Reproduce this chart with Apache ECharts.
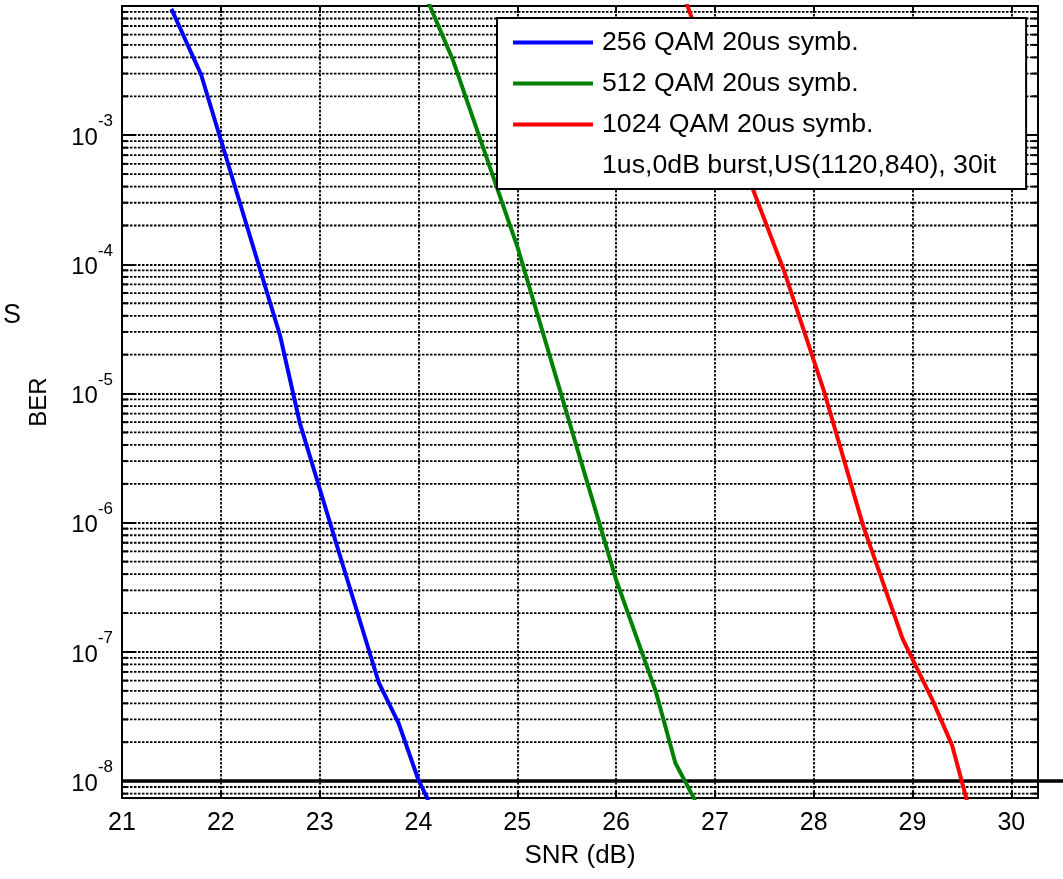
<!DOCTYPE html>
<html>
<head>
<meta charset="utf-8">
<script src="https://cdn.jsdelivr.net/npm/echarts@6/dist/echarts.min.js"></script>
<style>html,body{margin:0;padding:0;background:#fff;}#c{width:1063px;height:879px;}</style>
</head>
<body>
<div id="c"></div>
<script>
// ---- data ----
const seriesNames = ['256 QAM 20us symb.', '512 QAM 20us symb.', '1024 QAM 20us symb.'];
const noteText = '1us,0dB burst,US(1120,840), 30it';
const snr256 = [21.5, 21.8, 22.6, 22.8, 23.2, 23.6, 23.8, 24.0, 24.1];
const ber256 = [9.5e-3, 2.95e-3, 2.8e-5, 5.9e-6, 5.75e-7, 5.75e-8, 2.8e-8, 1.02e-8, 7.1e-9];
const snr512 = [24.1, 24.35, 25.0, 26.0, 26.4, 26.6, 26.8];
const ber512 = [1.07e-2, 3.8e-3, 1.38e-4, 3.63e-7, 5.0e-8, 1.38e-8, 7.1e-9];
const snr1024 = [26.7, 27.4, 27.7, 28.1, 28.5, 28.9, 29.2, 29.4, 29.55];
const ber1024 = [1.12e-2, 3.55e-4, 8.9e-5, 1.07e-5, 9.5e-7, 1.26e-7, 4.27e-8, 1.9e-8, 7.1e-9];
const xMin = 21, xMax = 30.27, xStep = 1;
const yMin = 7.4e-9, yMax = 1e-2;
const thresholdBER = 1e-8;
const thresholdSpan = [21, 30.6];
const minorMantissas = [2, 3, 4, 5, 6, 7, 8, 9];
const decadeExps = [-9, -8, -7, -6, -5, -4, -3];
const labelExps = [-8, -7, -6, -5, -4, -3];

// ---- build ----
const minorVals = [];
decadeExps.forEach(e => minorMantissas.forEach(m => {
  const v = m * Math.pow(10, e);
  if (v > yMin && v < yMax) minorVals.push(v);
}));
const zip = (xs, ys) => xs.map((x, i) => [x, ys[i]]);
const FONT = 'Liberation Sans, Arial, sans-serif';
const DASH = [2.5, 1.5];
const dotted = { type: DASH, color: '#000', width: 1.8 };

const chart = echarts.init(document.getElementById('c'), null, { renderer: 'canvas' });
chart.setOption({
  animation: false,
  backgroundColor: '#fff',
  textStyle: { fontFamily: FONT },
  grid: { left: 122, top: 6, right: 25, bottom: 81 },
  graphic: [{ type: 'text', left: 3, top: 302,
    style: { text: 'S', fontSize: 27, fontFamily: FONT, fill: '#000' } }],
  legend: {
    orient: 'vertical', left: 497, top: 18,
    icon: 'rect', itemWidth: 80, itemHeight: 4, itemGap: 14,
    padding: [11, 30, 10, 16],
    backgroundColor: '#fff', borderColor: '#000', borderWidth: 2,
    selectedMode: false,
    textStyle: { fontSize: 26.7, fontFamily: FONT, color: '#000', padding: [0, 0, 0, 4] },
    data: seriesNames.concat([noteText])
  },
  xAxis: [{
    type: 'value', min: xMin, max: xMax, interval: xStep, position: 'bottom',
    name: 'SNR (dB)', nameLocation: 'middle', nameGap: 45,
    nameTextStyle: { fontSize: 26, fontFamily: FONT, color: '#000' },
    axisLine: { show: true, lineStyle: { color: '#000', width: 2 } },
    axisTick: { inside: true, length: 7, lineStyle: { color: '#000', width: 2 } },
    axisLabel: { fontSize: 25, fontFamily: FONT, color: '#000', margin: 13, showMaxLabel: false },
    splitLine: { show: true, lineStyle: dotted }
  }, {
    type: 'value', min: xMin, max: xMax, interval: xStep, position: 'top',
    axisLine: { show: true, lineStyle: { color: '#000', width: 2 } },
    axisTick: { inside: true, length: 7, lineStyle: { color: '#000', width: 2 } },
    axisLabel: { show: false }, splitLine: { show: false }
  }],
  yAxis: [{
    type: 'log', logBase: 10, min: yMin, max: yMax, splitNumber: 6, position: 'left',
    name: 'BER', nameLocation: 'middle', nameGap: 71,
    nameTextStyle: { fontSize: 24, fontFamily: FONT, color: '#000' },
    axisLine: { show: true, lineStyle: { color: '#000', width: 2 } },
    axisTick: { inside: true, length: 12, lineStyle: { color: '#000', width: 2 } },
    axisLabel: {
      margin: 9, color: '#000',
      formatter: v => {
        const l = Math.log10(v), e = Math.round(l);
        if (Math.abs(l - e) > 1e-6 || labelExps.indexOf(e) < 0) return '';
        return '{b|10}{s|' + e + '}';
      },
      rich: {
        b: { fontSize: 24, fontFamily: FONT, color: '#000', lineHeight: 30, verticalAlign: 'bottom' },
        s: { fontSize: 17, fontFamily: FONT, color: '#000', lineHeight: 17, verticalAlign: 'bottom', padding: [0, 0, 20, 0] }
      }
    },
    splitLine: { show: true, lineStyle: dotted }
  }, {
    type: 'log', logBase: 10, min: yMin, max: yMax, splitNumber: 6, position: 'right',
    axisLine: { show: true, lineStyle: { color: '#000', width: 2 } },
    axisTick: { inside: true, length: 12, lineStyle: { color: '#000', width: 2 } },
    axisLabel: { show: false }, splitLine: { show: false }
  }],
  series: [
    {
      name: 'minorGrid', type: 'custom', silent: true, clip: false, z: 1,
      data: minorVals.map(v => [xMin, v]),
      encode: { x: 0, y: 1 },
      renderItem: (params, api) => {
        const v = api.value(1);
        const p0 = api.coord([xMin, v]);
        const p1 = api.coord([xMax, v]);
        return {
          type: 'group', children: [
            { type: 'line', shape: { x1: p0[0], y1: p0[1], x2: p1[0], y2: p1[1] },
              style: { stroke: '#000', lineWidth: 1.8, lineDash: DASH } },
            { type: 'line', shape: { x1: p0[0], y1: p0[1], x2: p0[0] + 6, y2: p0[1] },
              style: { stroke: '#000', lineWidth: 2 } },
            { type: 'line', shape: { x1: p1[0], y1: p1[1], x2: p1[0] - 6, y2: p1[1] },
              style: { stroke: '#000', lineWidth: 2 } }
          ]
        };
      }
    },
    { name: seriesNames[0], type: 'line', data: zip(snr256, ber256), symbol: 'none',
      color: '#0000ff', lineStyle: { width: 4, color: '#0000ff' } },
    { name: seriesNames[1], type: 'line', data: zip(snr512, ber512), symbol: 'none',
      color: '#008000', lineStyle: { width: 4, color: '#008000' } },
    { name: seriesNames[2], type: 'line', data: zip(snr1024, ber1024), symbol: 'none',
      color: '#ff0000', lineStyle: { width: 4, color: '#ff0000' } },
    { name: noteText, type: 'line', data: [], symbol: 'none',
      color: 'rgba(0,0,0,0)', lineStyle: { width: 4, color: 'rgba(0,0,0,0)' } },
    {
      name: 'threshold', type: 'custom', silent: true, clip: false, z: 3,
      data: [[thresholdSpan[0], thresholdBER, thresholdSpan[1]]],
      encode: { x: 0, y: 1 },
      renderItem: (params, api) => {
        const a = api.coord([api.value(0), api.value(1)]);
        const b = api.coord([api.value(2), api.value(1)]);
        return { type: 'line', shape: { x1: a[0], y1: a[1], x2: b[0], y2: b[1] },
          style: { stroke: '#000', lineWidth: 3.5 } };
      }
    }
  ]
});
</script>
</body>
</html>
